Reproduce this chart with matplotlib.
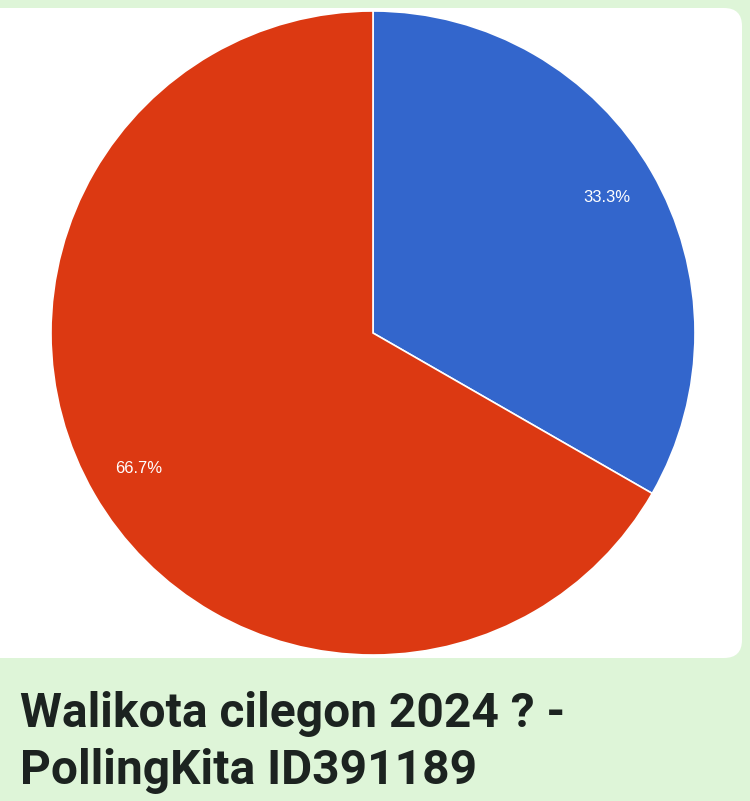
import matplotlib.pyplot as plt
from matplotlib.patches import FancyBboxPatch

# poll results
labels = ['Pilihan A', 'Pilihan B']
shares = [33.3, 66.7]
colors = ['#3366CC', '#DC3912']
title_lines = ['Walikota cilegon 2024 ? -', 'PollingKita ID391189']

W, H = 750, 801
fig = plt.figure(figsize=(W / 100, H / 100), dpi=100)
fig.patch.set_facecolor('#DEF5D8')

# white card behind the pie, drawn in a background axes
bg = fig.add_axes([0, 0, 1, 1], zorder=0)
bg.set_xlim(0, W)
bg.set_ylim(H, 0)
bg.axis('off')
bg.add_patch(FancyBboxPatch((-20, 8), 762, 650,
                            boxstyle='round,pad=0,rounding_size=18',
                            facecolor='white', edgecolor='none'))

# pie axes, centre ~(373, 333) px, radius ~322 px
cx, cy, r = 373, 333, 322
ax = fig.add_axes([(cx - r) / W, 1 - (cy + r) / H, 2 * r / W, 2 * r / H],
                  zorder=1)
wedges, texts, autotexts = ax.pie(
    shares, colors=colors, startangle=90, counterclock=False,
    autopct='%1.1f%%', pctdistance=0.84,
    wedgeprops=dict(edgecolor='white', linewidth=1.2),
    textprops=dict(color='white', fontsize=12, family='Liberation Sans'))
ax.set_xlim(-1, 1)
ax.set_ylim(-1, 1)
ax.set_aspect('equal')
ax.axis('off')

# title text in the green band
for i, line in enumerate(title_lines):
    bg.text(20, 727 + i * 57, line, fontsize=34.5, fontweight='bold',
            family='Roboto', color='#1C2320',
            ha='left', va='baseline', zorder=3)

fig.savefig('out.png', dpi=100, facecolor=fig.get_facecolor())
